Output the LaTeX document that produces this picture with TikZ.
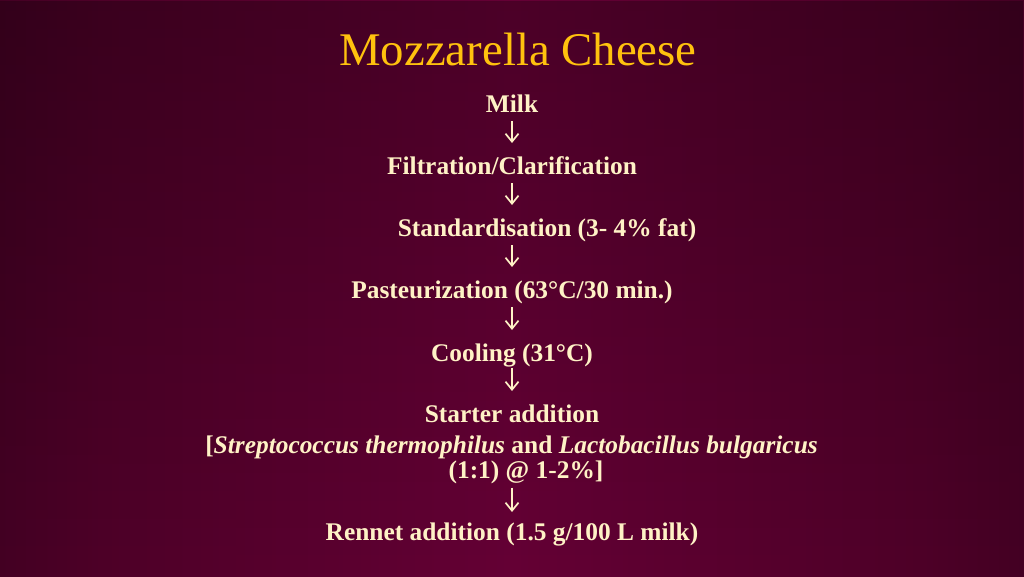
\documentclass[tikz,border=0pt]{standalone}
\usepackage{fontspec}
\setmainfont{Liberation Serif}
\usetikzlibrary{arrows.meta,fadings}
\definecolor{bgA}{HTML}{1B0010}
\definecolor{bgB}{HTML}{2E0019}
\definecolor{bgC}{HTML}{4E0028}
\definecolor{bgD}{HTML}{650035}
\definecolor{titlegold}{HTML}{FFC20E}
\definecolor{cream}{HTML}{FFF2C6}
\pgfdeclarehorizontalshading{bgshade}{100bp}{color(0bp)=(bgA); color(14bp)=(bgB); color(30bp)=(bgC); color(50bp)=(bgD); color(70bp)=(bgC); color(86bp)=(bgB); color(100bp)=(bgA)}
\tikzfading[name=topfade, top color=transparent!75, bottom color=transparent!100]
\tikzset{
  steptext/.style={anchor=base, inner sep=0pt, text=cream, font=\fontsize{25.4}{28}\selectfont\bfseries, text height=17.8pt, text depth=6.3pt},
  titletext/.style={anchor=base, inner sep=0pt, text=titlegold, font=\fontsize{46.8}{50}\selectfont},
  flowarrow/.style={draw=cream, line width=1.7pt, -{Straight Barb[length=8pt,width=13pt,line width=1.7pt]}, shorten <=2.7pt, shorten >=13pt}
}
\begin{document}
\begin{tikzpicture}[x=1pt,y=-1pt]
\useasboundingbox (0,0) rectangle (1024,576);
\shade[shading=bgshade] (0,0) rectangle (1024,576);
\fill[black, path fading=topfade] (0,0) rectangle (1024,576);
\node[titletext] (title) at (518,65) {Mozzarella Cheese};
\node[steptext] (milk) at (512,112) {Milk};
\node[steptext] (filt) at (512,174) {Filtration/Clarification};
\node[steptext] (std) at (547,236) {Standardisation (3- 4\% fat)};
\node[steptext] (past) at (512,298) {Pasteurization (63°C/30 min.)};
\node[steptext] (cool) at (512,361) {Cooling (31°C)};
\node[steptext] (start) at (512,422) {Starter addition};
\node[steptext] (strep) at (511.5,453) {[\textit{Streptococcus thermophilus} and \textit{Lactobacillus bulgaricus}};
\node[steptext] (ratio) at (526,478.5) {(1:1) @ 1-2\%]};
\node[steptext] (rennet) at (512,540) {Rennet addition (1.5 g/100 L milk)};
\draw[flowarrow] (milk.south) -- (milk.south |- filt.north);
\draw[flowarrow] (filt.south) -- (filt.south |- std.north);
\draw[flowarrow] (past.north |- std.south) -- (past.north);
\draw[flowarrow] (past.south) -- (past.south |- cool.north);
\draw[flowarrow, shorten <=0pt] (cool.south) -- (cool.south |- start.north);
\draw[flowarrow, shorten >=10pt] (rennet.north |- ratio.south) -- (rennet.north);
\end{tikzpicture}
\end{document}
